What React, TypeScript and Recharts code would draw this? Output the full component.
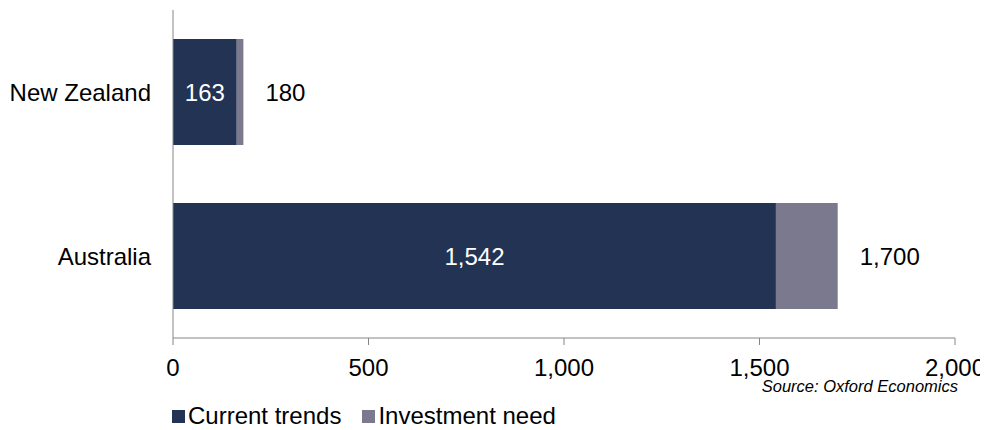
import React from "react";
import { BarChart, Bar, XAxis, YAxis, Legend, LabelList } from "recharts";

const regions = ["New Zealand", "Australia"];
const currentTrends = [163, 1542];
const totalNeed = [180, 1700];
const xTicks = [0, 500, 1000, 1500, 2000];

const NAVY = "#223353";
const GREY = "#7a798e";
const AXIS = "#868686";
const FONT = "'Liberation Sans', Arial, sans-serif";

const data = regions.map((name, i) => ({
  name,
  current: currentTrends[i],
  gap: totalNeed[i] - currentTrends[i],
  total: totalNeed[i],
}));

const fmt = (v: number) => v.toLocaleString("en-US");

const LegendBox = () => (
  <div style={{ position: "relative", width: 980, height: 52, fontFamily: FONT }}>
    <div
      style={{
        position: "absolute",
        right: 30,
        top: -1,
        fontSize: 16.5,
        fontStyle: "italic",
        color: "#000",
      }}
    >
      Source: Oxford Economics
    </div>
    <div
      style={{
        position: "absolute",
        left: 164,
        top: 24,
        display: "flex",
        alignItems: "center",
        fontSize: 24,
        color: "#000",
      }}
    >
      <span style={{ width: 13, height: 13, background: NAVY, marginRight: 3 }} />
      <span style={{ marginRight: 21 }}>Current trends</span>
      <span style={{ width: 13, height: 13, background: GREY, marginRight: 3 }} />
      <span>Investment need</span>
    </div>
  </div>
);

export default function App() {
  return (
    <BarChart
      width={980}
      height={422}
      data={data}
      layout="vertical"
      margin={{ top: 2, right: 33, bottom: 0, left: 0 }}
      style={{ fontFamily: FONT }}
    >
      <XAxis
        type="number"
        domain={[0, 2000]}
        ticks={xTicks}
        tickFormatter={fmt}
        height={40}
        stroke={AXIS}
        tickSize={7}
        tickMargin={14}
        tick={{ fill: "#000", fontSize: 24 }}
      />
      <YAxis
        type="category"
        dataKey="name"
        width={165}
        stroke={AXIS}
        tickLine={false}
        tickSize={0}
        tickMargin={22}
        tick={{ fill: "#000", fontSize: 24 }}
      />
      <Legend verticalAlign="bottom" content={<LegendBox />} wrapperStyle={{ left: 0 }} />
      <Bar dataKey="current" stackId="a" fill={NAVY} barSize={106} isAnimationActive={false}>
        <LabelList dataKey="current" position="center" fill="#fff" fontSize={24} formatter={fmt} />
      </Bar>
      <Bar dataKey="gap" stackId="a" fill={GREY} barSize={106} isAnimationActive={false}>
        <LabelList dataKey="total" position="right" offset={22} fill="#000" fontSize={24} formatter={fmt} />
      </Bar>
    </BarChart>
  );
}
